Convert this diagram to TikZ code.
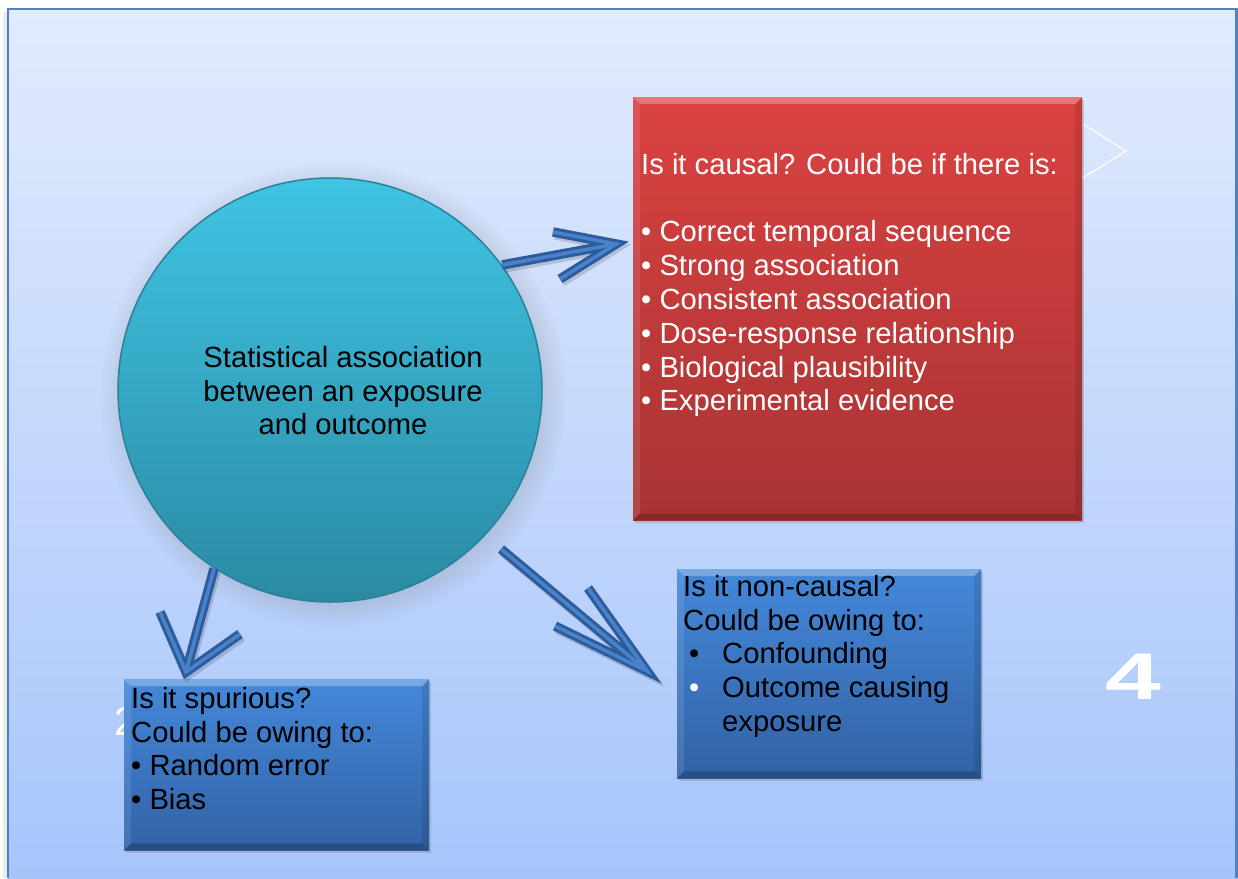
\documentclass[tikz,border=0pt]{standalone}
\usepackage{fontspec}
\setmainfont{Liberation Sans}
\usetikzlibrary{shadows,calc}

\definecolor{bgtop}{HTML}{E1EBFD}
\definecolor{bgbot}{HTML}{A7C5FB}
\definecolor{frameblue}{HTML}{4F80C2}
\definecolor{circtop}{HTML}{3FC4E4}
\definecolor{circbot}{HTML}{2B8AA3}
\definecolor{circedge}{HTML}{2A8199}
\definecolor{redtop}{HTML}{DA4241}
\definecolor{redbot}{HTML}{A83333}
\definecolor{bluetop}{HTML}{4488DA}
\definecolor{bluebot}{HTML}{3262A5}
\definecolor{arrdark}{HTML}{2D5C9C}
\definecolor{arrlight}{HTML}{4A82C9}

% bevelled edges of a box node
\newcommand\boxbevel[1]{%
  \fill[white,opacity=.28] (#1.north west) -- (#1.north east) -- ([shift={(-7pt,-7pt)}]#1.north east) -- ([shift={(7pt,-7pt)}]#1.north west) -- cycle;
  \fill[white,opacity=.10] (#1.north west) -- ([shift={(7pt,-7pt)}]#1.north west) -- ([shift={(7pt,7pt)}]#1.south west) -- (#1.south west) -- cycle;
  \fill[black,opacity=.10] (#1.north east) -- ([shift={(-7pt,-7pt)}]#1.north east) -- ([shift={(-7pt,7pt)}]#1.south east) -- (#1.south east) -- cycle;
  \fill[black,opacity=.20] (#1.south west) -- ([shift={(7pt,7pt)}]#1.south west) -- ([shift={(-7pt,7pt)}]#1.south east) -- (#1.south east) -- cycle;
}

\tikzset{
  panel/.style={rectangle, inner sep=0, anchor=north west,
    drop shadow={shadow xshift=2pt, shadow yshift=-3pt, opacity=.35}},
  redpanel/.style={panel, top color=redtop, bottom color=redbot},
  bluepanel/.style={panel, top color=bluetop, bottom color=bluebot},
  txt/.style={inner sep=0, align=left, anchor=north west,
    font=\fontsize{29.2}{33.8}\selectfont},
  arrshadow/.style={draw=black, opacity=.15, line width=9.5pt, line join=miter, line cap=butt},
  arrbody/.style={draw=arrdark, line width=9.5pt, line join=miter, line cap=butt},
  arrshine/.style={draw=arrlight, line width=3.5pt, line join=miter, line cap=butt},
}

\begin{document}
\begin{tikzpicture}[x=1pt,y=-1pt]
\useasboundingbox (0,0) rectangle (1238,878);

% slide background and frame
\fill[black,opacity=.08] (3,12) rectangle (8,878);
\shade[top color=bgtop, bottom color=bgbot] (8,9) rectangle (1238,878);
\draw[frameblue, line width=2.5pt] (8,878) -- (8,9) -- (1236.5,9) -- (1236.5,878);

% outlined chevron behind the red panel
\draw[white, line width=1.2pt] (1070,116) -- (1126,151) -- (1070,186);

% page numbers
\node[text=white, inner sep=0, anchor=base west, font=\fontsize{40}{40}\selectfont] (numtwo) at (114,735) {2};
\node[text=white, inner sep=0, anchor=base west, xscale=1.52, font=\fontsize{66}{66}\bfseries\selectfont] (numfour) at (1105,699) {4};

% central circle
\node[circle, minimum size=424pt, inner sep=0, top color=circtop, bottom color=circbot,
      draw=circedge, line width=1.5pt,
      circular drop shadow={shadow xshift=3pt, shadow yshift=-4pt, opacity=.3}] (circ) at (330,390) {};
\node[txt, align=center, anchor=north] (circtext) at (343,346)
  {Statistical association\\between an exposure\\and outcome};

% panels
\node[redpanel, minimum width=449pt, minimum height=423pt] (causal) at (633,97) {};
\boxbevel{causal}
\node[bluepanel, minimum width=304pt, minimum height=209pt] (noncausal) at (677,569) {};
\boxbevel{noncausal}
\node[bluepanel, minimum width=305pt, minimum height=171pt] (spurious) at (124,679) {};
\boxbevel{spurious}

% panel texts
\node[txt, text=white] (causaltext) at (641,153)
  {Is it causal? Could be if there is:\\ ~\\
   \textbullet{} Correct temporal sequence\\
   \textbullet{} Strong association\\
   \textbullet{} Consistent association\\
   \textbullet{} Dose-response relationship\\
   \textbullet{} Biological plausibility\\
   \textbullet{} Experimental evidence};
\node[txt, text=black] (noncausaltext) at (683,575)
  {Is it non-causal?\\
   Could be owing to:\\
   \hspace*{6pt}\makebox[33pt][l]{\textbullet}Confounding\\
   \hspace*{6pt}\makebox[33pt][l]{\textcolor{white}{\textbullet}}Outcome causing\\
   \hspace*{39pt}exposure};
\node[txt, text=black] (spurioustext) at (131,687)
  {Is it spurious?\\
   Could be owing to:\\
   \textbullet{} Random error\\
   \textbullet{} Bias};

% arrow geometry
\coordinate (t1) at (616,244);
\coordinate (t1a) at (553,232);
\coordinate (t1b) at (560,279);
\coordinate (t2) at (186,672);
\coordinate (t2a) at (160,612);
\coordinate (t2b) at (240,634);
\coordinate (s3) at (501,549);
\coordinate (t3) at (647,671);
\coordinate (t3a) at (588,588);
\coordinate (t3b) at (555,626);

% open chevron arrows
\foreach \s/\t/\a/\b in {circ.36/t1/t1a/t1b, circ.237/t2/t2a/t2b, s3/t3/t3a/t3b}{
  \draw[arrshadow] ([shift={(2pt,-3pt)}]\s) -- ([shift={(2pt,-3pt)}]\t)
        ([shift={(2pt,-3pt)}]\a) -- ([shift={(2pt,-3pt)}]\t) -- ([shift={(2pt,-3pt)}]\b);
  \draw[arrbody] (\s) -- (\t) (\a) -- (\t) -- (\b);
  \draw[arrshine] (\s) -- (\t) (\a) -- (\t) -- (\b);
}
\end{tikzpicture}
\end{document}
